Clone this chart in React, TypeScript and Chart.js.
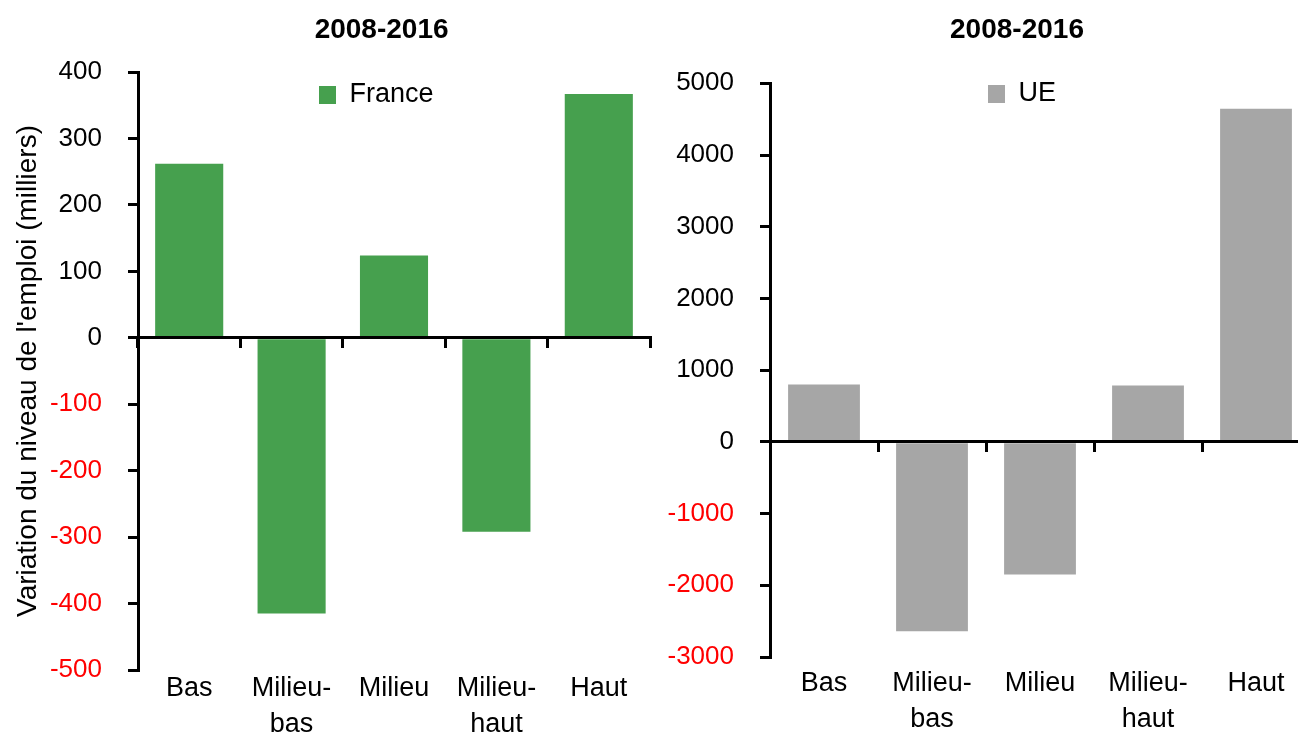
import React, { useEffect, useRef } from 'react';
import { Chart, registerables } from 'chart.js';

Chart.register(...registerables);

// ---- data ----
const categories: (string | string[])[] = ['Bas', ['Milieu-', 'bas'], 'Milieu', ['Milieu-', 'haut'], 'Haut'];
const periodTitle = '2008-2016';
const yAxisTitle = "Variation du niveau de l'emploi (milliers)";

const franceLabel = 'France';
const franceValues = [262, -415, 124, -292, 367];
const franceTickRange = [-500, 400];
const franceTickStep = 100;

const ueLabel = 'UE';
const ueValues = [800, -2640, -1850, 785, 4645];
const ueTickRange = [-3000, 5000];
const ueTickStep = 1000;

const FONT = "'Liberation Sans', Arial, Helvetica, sans-serif";

type Opts = {
  label: string;
  values: number[];
  color: string;
  range: number[];
  step: number;
  yTitle?: string;
  yAxisWidth: number;
  xAxisHeight: number;
  titlePadBottom: number;
  xTickPad: number;
  padRight: number;
  titleX: number;
  legendX: number;
  legendY: number;
};

function buildConfig(o: Opts): any {
  const legendFont = 27;
  const legendBoxH = 18;
  const legendPad = 10;
  const placer = {
    id: 'placer',
    beforeDraw(chart: any) {
      const t = chart.titleBlock;
      if (t) {
        const w = t.right - t.left;
        t.left = o.titleX - w / 2;
        t.right = o.titleX + w / 2;
      }
      const lg = chart.legend;
      if (lg) {
        const w = lg.width;
        lg.left = o.legendX - legendPad;
        lg.right = lg.left + w;
        lg.top = o.legendY - legendPad - Math.max((legendFont - legendBoxH) / 2, 0);
      }
    },
  };
  return {
    type: 'bar',
    data: {
      labels: categories,
      datasets: [
        {
          label: o.label,
          data: o.values,
          backgroundColor: o.color,
          borderWidth: 0,
          barPercentage: 0.665,
          categoryPercentage: 1,
        },
      ],
    },
    options: {
      responsive: false,
      animation: false,
      devicePixelRatio: 1,
      layout: { padding: { left: 0, right: o.padRight, top: 0, bottom: 0 } },
      plugins: {
        title: {
          display: true,
          text: periodTitle,
          color: '#000',
          font: { family: FONT, size: 28, weight: 'bold' },
          padding: { top: 13, bottom: o.titlePadBottom },
        },
        legend: {
          display: true,
          position: 'chartArea',
          align: 'start',
          labels: {
            color: '#000',
            font: { family: FONT, size: legendFont },
            boxWidth: 17,
            boxHeight: legendBoxH,
            padding: legendPad,
          },
        },
        tooltip: { enabled: false },
      },
      scales: {
        x: {
          type: 'category',
          position: 'bottom',
          offset: true,
          grid: { display: false, drawTicks: false, offset: true },
          border: { display: false },
          ticks: {
            color: '#000',
            font: { family: FONT, size: 27, lineHeight: 1.33 },
            padding: o.xTickPad,
            maxRotation: 0,
            minRotation: 0,
            autoSkip: false,
          },
          afterFit: (s: any) => {
            s.height = o.xAxisHeight;
          },
        },
        x0: {
          type: 'category',
          position: { y: 0 },
          offset: true,
          grid: {
            display: true,
            drawOnChartArea: false,
            drawTicks: true,
            tickLength: 9,
            lineWidth: 3,
            color: '#000',
            offset: true,
          },
          border: { display: true, color: '#000', width: 3, z: 1 },
          ticks: { display: false },
        },
        y: {
          type: 'linear',
          position: 'left',
          min: o.range[0],
          max: o.range[1],
          ticks: {
            stepSize: o.step,
            callback: (v: any) => String(v),
            color: (c: any) => (c.tick && c.tick.value < 0 ? '#ff0000' : '#000'),
            font: { family: FONT, size: 26 },
            padding: 26,
          },
          grid: {
            drawOnChartArea: false,
            drawTicks: true,
            tickLength: 10,
            lineWidth: 3,
            color: '#000',
          },
          border: { display: true, color: '#000', width: 3, z: 1 },
          title: {
            display: !!o.yTitle,
            text: o.yTitle || '',
            color: '#000',
            font: { family: FONT, size: 28 },
            padding: { top: 11, bottom: 0 },
          },
          afterFit: (s: any) => {
            s.width = o.yAxisWidth;
          },
        },
      },
    },
    plugins: [placer],
  };
}

function BarPanel(props: { o: Opts; left: number; width: number }) {
  const ref = useRef<HTMLCanvasElement | null>(null);
  useEffect(() => {
    if (!ref.current) return;
    const chart = new Chart(ref.current, buildConfig(props.o));
    return () => chart.destroy();
  }, []);
  return (
    <canvas
      ref={ref}
      width={props.width}
      height={733}
      style={{ position: 'absolute', left: props.left, top: 0, width: props.width, height: 733 }}
    />
  );
}

export default function App() {
  const franceOpts: Opts = {
    label: franceLabel,
    values: franceValues,
    color: '#46a04e',
    range: franceTickRange,
    step: franceTickStep,
    yTitle: yAxisTitle,
    yAxisWidth: 138,
    xAxisHeight: 63,
    titlePadBottom: 25.4,
    xTickPad: 1,
    padRight: 10,
    titleX: 381.6,
    legendX: 319,
    legendY: 86,
  };
  const ueOpts: Opts = {
    label: ueLabel,
    values: ueValues,
    color: '#a6a6a6',
    range: ueTickRange,
    step: ueTickStep,
    yAxisWidth: 120,
    xAxisHeight: 76,
    titlePadBottom: 36.7,
    xTickPad: 9,
    padRight: 20,
    titleX: 367,
    legendX: 338,
    legendY: 85,
  };
  return (
    <div
      style={{
        position: 'fixed',
        left: 0,
        top: 0,
        width: 1298,
        height: 733,
        overflow: 'hidden',
        background: '#fff',
      }}
    >
      <BarPanel o={franceOpts} left={0} width={660} />
      <BarPanel o={ueOpts} left={650} width={680} />
    </div>
  );
}
